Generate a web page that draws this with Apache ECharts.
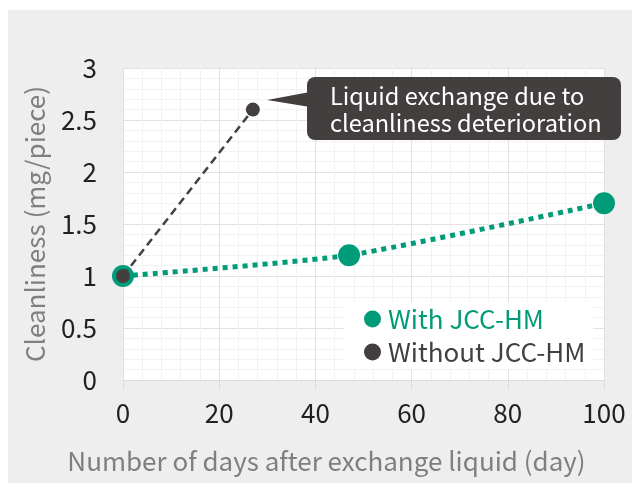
<!DOCTYPE html>
<html>
<head>
<meta charset="utf-8">
<script src="https://cdn.jsdelivr.net/npm/echarts@6/dist/echarts.min.js"></script>
<style>
  html, body { margin: 0; padding: 0; background: #fff; }
  #chart { width: 638px; height: 483px; }
</style>
</head>
<body>
<div id="chart"></div>
<script>
var daysWith = [0, 47, 100];
var cleanWith = [1.0, 1.2, 1.7];
var daysWithout = [0, 27];
var cleanWithout = [1.0, 2.6];
var xTicks = [0, 20, 40, 60, 80, 100];
var yTicks = [0, 0.5, 1, 1.5, 2, 2.5, 3];

var green = '#009b78';
var dark = '#433f3e';
var font = '"Noto Sans CJK JP", "Noto Sans", sans-serif';

var chart = echarts.init(document.getElementById('chart'));

function pairs(xs, ys) {
  var out = [];
  for (var i = 0; i < xs.length; i++) {
    out.push([xs[i], ys[i]]);
  }
  return out;
}

var option = {
  animation: false,
  textStyle: { fontFamily: font },
  graphic: [
    {
      type: 'rect',
      z: -10,
      shape: { x: 8, y: 10, width: 624, height: 473 },
      style: { fill: '#eeeeee' }
    },
    {
      type: 'polygon',
      z: 100,
      shape: { points: [[267, 100], [310, 92], [310, 107]] },
      style: { fill: dark }
    },
    {
      type: 'rect',
      z: 100,
      shape: { x: 307, y: 77, width: 314, height: 63, r: 8 },
      style: { fill: dark }
    },
    {
      type: 'text',
      z: 101,
      x: 330,
      y: 83,
      style: {
        text: 'Liquid exchange due to\ncleanliness deterioration',
        fill: '#ffffff',
        font: '23.6px ' + font,
        lineHeight: 27
      }
    }
  ],
  grid: {
    left: 123,
    right: 34,
    top: 68,
    bottom: 103,
    show: true,
    backgroundColor: '#ffffff',
    borderWidth: 0
  },
  legend: {
    orient: 'vertical',
    left: 344,
    top: 302,
    backgroundColor: '#ffffff',
    padding: [4, 8, 4, 20],
    itemGap: 7,
    itemWidth: 17,
    itemHeight: 17,
    icon: 'circle',
    textStyle: { fontSize: 26, fontFamily: font, padding: [0, 0, 0, 2] },
    data: [
      { name: 'With JCC-HM', textStyle: { color: green } },
      { name: 'Without JCC-HM', textStyle: { color: dark } }
    ]
  },
  xAxis: {
    type: 'value',
    min: xTicks[0],
    max: xTicks[xTicks.length - 1],
    interval: 20,
    name: 'Number of days after exchange liquid (day)',
    nameLocation: 'middle',
    nameGap: 68,
    nameTextStyle: { color: '#7f7f7f', fontSize: 26, fontFamily: font, padding: [0, 74, 0, 0] },
    axisLine: { show: true, lineStyle: { color: '#dddddd', width: 1 } },
    axisTick: { show: true, length: 9, lineStyle: { color: '#dddddd' } },
    axisLabel: { color: '#231f20', fontSize: 26, margin: 20, fontFamily: font },
    splitLine: { show: true, lineStyle: { color: '#e2e2e2', width: 1 } },
    minorTick: { show: false, splitNumber: 5 },
    minorSplitLine: { show: true, lineStyle: { color: '#f2f2f2', width: 1 } }
  },
  yAxis: {
    type: 'value',
    min: yTicks[0],
    max: yTicks[yTicks.length - 1],
    interval: 0.5,
    name: 'Cleanliness (mg/piece)',
    nameLocation: 'middle',
    nameGap: 75,
    nameTextStyle: { color: '#7f7f7f', fontSize: 26, fontFamily: font },
    axisLine: { show: false },
    axisTick: { show: false },
    axisLabel: { color: '#231f20', fontSize: 26, margin: 26, fontFamily: font },
    splitLine: { show: true, lineStyle: { color: '#e2e2e2', width: 1 } },
    minorTick: { show: false, splitNumber: 5 },
    minorSplitLine: { show: true, lineStyle: { color: '#f2f2f2', width: 1 } }
  },
  series: [
    {
      name: 'With JCC-HM',
      type: 'line',
      data: pairs(daysWith, cleanWith),
      smooth: 0.2,
      symbol: 'circle',
      symbolSize: 22,
      itemStyle: { color: green },
      lineStyle: { color: green, width: 5, type: [5, 5] },
      z: 3
    },
    {
      name: 'Without JCC-HM',
      type: 'line',
      data: pairs(daysWithout, cleanWithout),
      symbol: 'circle',
      symbolSize: 14,
      itemStyle: { color: dark },
      lineStyle: { color: dark, width: 2.5, type: [8, 5] },
      z: 4
    }
  ]
};

chart.setOption(option);
</script>
</body>
</html>
